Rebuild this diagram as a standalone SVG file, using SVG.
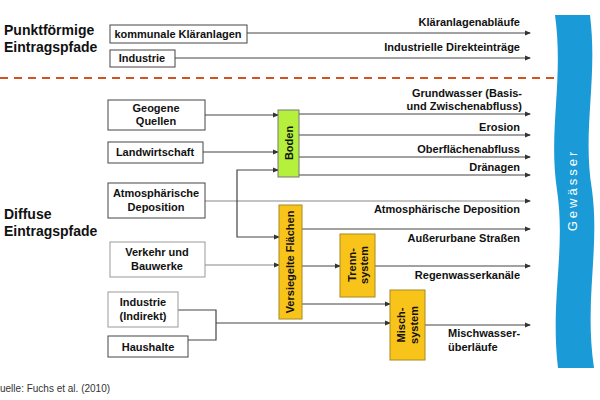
<svg xmlns="http://www.w3.org/2000/svg" width="600" height="400" viewBox="0 0 600 400">
<defs><marker id="a" markerWidth="6" markerHeight="6" refX="5" refY="3" orient="auto" markerUnits="userSpaceOnUse"><path d="M0,0.5 L6,3 L0,5.5 Z" fill="#333"/></marker>
<style>
text{font-family:"Liberation Sans",Arial,sans-serif;font-weight:bold;font-size:11px;fill:#111}
.b{fill:#fff;stroke:#444;stroke-width:1}
.l{stroke:#444;stroke-width:1.2;fill:none}
.r{text-anchor:end}
.m{text-anchor:middle}
.h{font-size:14px}
</style></defs>
<rect width="600" height="400" fill="#fff"/>
<path d="M555,15 L590,15 C598,80 582,130 592,190 C600,250 584,300 594,368 L558,368 C550,300 566,250 557,190 C548,130 564,80 555,15 Z" fill="#1a9ad6"/>
<text transform="translate(577,190) rotate(-90)" class="m" style="fill:#fff;font-weight:normal;font-size:13px;letter-spacing:3px">Gewässer</text>
<text x="4" y="35" class="h">Punktförmige</text><text x="4" y="52" class="h">Eintragspfade</text>
<text x="4" y="219" class="h">Diffuse</text><text x="4" y="236" class="h">Eintragspfade</text>
<line x1="0" y1="78" x2="556" y2="78" stroke="#d2531f" stroke-width="2" stroke-dasharray="8,6"/>
<g id="connectors">
<path class="l" marker-end="url(#a)" d="M247,33H530"/>
<path class="l" marker-end="url(#a)" d="M175,58H530"/>
<path class="l" marker-end="url(#a)" d="M205,115H278"/>
<path class="l" marker-end="url(#a)" d="M203,152H278"/>
<path class="l" d="M205,201H530" marker-end="url(#a)" style="stroke:#888"/>
<path class="l" marker-end="url(#a)" d="M237,201V170H278"/>
<path class="l" marker-end="url(#a)" d="M237,201V237H279"/>
<path class="l" marker-end="url(#a)" d="M205,265H279" style="stroke:#888"/>
<path class="l" d="M178,310H216V340H188"/>
<path class="l" marker-end="url(#a)" d="M216,323H390"/>
<path class="l" marker-end="url(#a)" d="M299,114H530"/>
<path class="l" marker-end="url(#a)" d="M299,135H530"/>
<path class="l" marker-end="url(#a)" d="M299,157H530"/>
<path class="l" marker-end="url(#a)" d="M299,175H530"/>
<path class="l" marker-end="url(#a)" d="M302,229H530"/>
<path class="l" marker-end="url(#a)" d="M302,266H340"/>
<path class="l" marker-end="url(#a)" d="M375,266H530"/>
<path class="l" marker-end="url(#a)" d="M302,304H390"/>
<path class="l" marker-end="url(#a)" d="M425,325H530"/>
</g>
<g id="n1"><rect class="b" x="110" y="25" width="137" height="18"/><text x="178" y="38" class="m">kommunale Kläranlagen</text></g>
<g id="n2"><rect class="b" x="110" y="50" width="65" height="17"/><text x="142" y="62" class="m">Industrie</text></g>
<g id="n3"><rect class="b" x="108" y="100" width="97" height="30"/><text x="156" y="112" class="m">Geogene</text><text x="156" y="125" class="m">Quellen</text></g>
<g id="n4"><rect class="b" x="108" y="142" width="95" height="21"/><text x="155" y="156" class="m">Landwirtschaft</text></g>
<g id="n5"><rect class="b" x="108" y="183" width="97" height="35"/><text x="156" y="197" class="m">Atmosphärische</text><text x="156" y="211" class="m">Deposition</text></g>
<g id="n6"><rect class="b" x="110" y="242" width="95" height="35" style="stroke:#999"/><text x="157" y="256" class="m">Verkehr und</text><text x="157" y="270" class="m">Bauwerke</text></g>
<g id="n7"><rect class="b" x="108" y="292" width="70" height="35" style="stroke:#999"/><text x="143" y="306" class="m">Industrie</text><text x="143" y="320" class="m">(Indirekt)</text></g>
<g id="n8"><rect class="b" x="108" y="336" width="80" height="21"/><text x="148" y="351" class="m">Haushalte</text></g>
<g id="boden"><rect x="278" y="110" width="21" height="67" fill="#b5f03c" stroke="#777"/><text transform="translate(293,143) rotate(-90)" class="m">Boden</text></g>
<g id="vers"><rect x="279" y="205" width="23" height="114" fill="#f8c41a" stroke="#a88a20"/><text transform="translate(294,262) rotate(-90)" class="m">Versiegelte Flächen</text></g>
<g id="trenn"><rect x="340" y="234" width="35" height="63" fill="#f8c41a" stroke="#a88a20"/><text transform="translate(356,265) rotate(-90)" class="m">Trenn-</text><text transform="translate(368,265) rotate(-90)" class="m">system</text></g>
<g id="misch"><rect x="390" y="290" width="35" height="70" fill="#f8c41a" stroke="#a88a20"/><text transform="translate(405,325) rotate(-90)" class="m">Misch-</text><text transform="translate(418,325) rotate(-90)" class="m">system</text></g>
<text x="520" y="26" class="r">Kläranlagenabläufe</text>
<text x="520" y="51" class="r">Industrielle Direkteinträge</text>
<text x="522" y="97" class="r">Grundwasser (Basis-</text>
<text x="522" y="110" class="r">und Zwischenabfluss)</text>
<text x="520" y="131" class="r">Erosion</text>
<text x="520" y="153" class="r">Oberflächenabfluss</text>
<text x="520" y="171" class="r">Dränagen</text>
<text x="520" y="213" class="r">Atmosphärische Deposition</text>
<text x="520" y="242" class="r">Außerurbane Straßen</text>
<text x="520" y="279" class="r">Regenwasserkanäle</text>
<text x="448" y="337">Mischwasser-</text>
<text x="448" y="351">überläufe</text>
<text x="0" y="392" style="font-weight:normal;font-size:10px;fill:#333">uelle: Fuchs et al. (2010)</text>
</svg>
